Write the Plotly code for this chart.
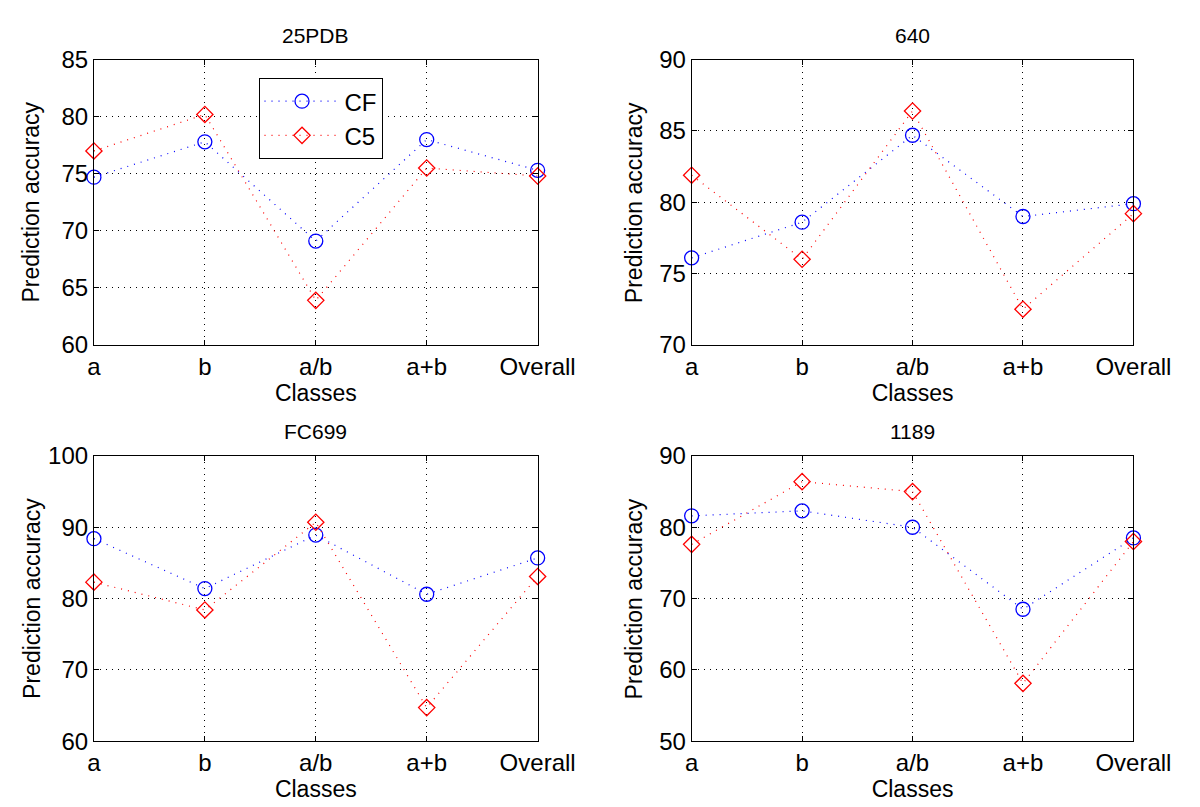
import plotly.graph_objects as go
from plotly.subplots import make_subplots

classes = ['a', 'b', 'a/b', 'a+b', 'Overall']
titles = ['25PDB', '640', 'FC699', '1189']

# valeurs
cf_25pdb = [74.7, 77.8, 69.1, 78.0, 75.3]
c5_25pdb = [77.0, 80.2, 63.9, 75.5, 74.8]
cf_640 = [76.1, 78.6, 84.7, 79.0, 79.9]
c5_640 = [81.9, 76.0, 86.4, 72.5, 79.2]
cf_fc699 = [88.4, 81.4, 88.9, 80.6, 85.7]
c5_fc699 = [82.3, 78.4, 90.7, 64.7, 83.1]
cf_1189 = [81.6, 82.3, 80.0, 68.5, 78.5]
c5_1189 = [77.6, 86.4, 85.0, 58.1, 78.0]

y_ranges = [[60, 85], [70, 90], [60, 100], [50, 90]]
y_dtick = [5, 5, 10, 10]

cf_all = [cf_25pdb, cf_640, cf_fc699, cf_1189]
c5_all = [c5_25pdb, c5_640, c5_fc699, c5_1189]

fig = make_subplots(rows=2, cols=2)

x_pos = [1, 2, 3, 4, 5]
font = 'Liberation Sans, Arial, sans-serif'

for i in range(4):
    r = i // 2 + 1
    c = i % 2 + 1
    fig.add_trace(go.Scatter(x=x_pos, y=cf_all[i], name='CF', mode='lines+markers',
                             line=dict(color='#0000ff', width=1.2, dash='1px,6px'),
                             marker=dict(symbol='circle-open', size=14, color='#0000ff',
                                         line=dict(width=1.3)),
                             cliponaxis=False, showlegend=(i == 0)), row=r, col=c)
    fig.add_trace(go.Scatter(x=x_pos, y=c5_all[i], name='C5', mode='lines+markers',
                             line=dict(color='#ff0000', width=1.2, dash='1px,6px'),
                             marker=dict(symbol='diamond-open', size=12.5, color='#ff0000',
                                         line=dict(width=1.3)),
                             cliponaxis=False, showlegend=(i == 0)), row=r, col=c)

# positions des axes (pixels -> papier)
W, H = 1200, 807
x_dom = [[82 / W, 543 / W], [703 / W, 1162 / W]]
y_dom = [[1 - 334 / H, 1 - 39 / H], [1 - 744 / H, 1 - 449 / H]]

for i in range(4):
    r = i // 2 + 1
    c = i % 2 + 1
    fig.update_xaxes(row=r, col=c, domain=x_dom[c - 1], range=[1, 5],
                     tickvals=x_pos, ticktext=classes,
                     title=dict(text='Classes', standoff=2, font=dict(size=23)),
                     tickfont=dict(size=24), ticks='inside', ticklen=5,
                     showline=True, linecolor='black', linewidth=1, mirror='allticks',
                     showgrid=True, gridcolor='black', gridwidth=1, griddash='1px,5px',
                     zeroline=False, tickcolor='black')
    fig.update_yaxes(row=r, col=c, domain=y_dom[r - 1], range=y_ranges[i],
                     dtick=y_dtick[i],
                     tickfont=dict(size=24), ticks='inside', ticklen=5,
                     showline=True, linecolor='black', linewidth=1, mirror='allticks',
                     showgrid=True, gridcolor='black', gridwidth=1, griddash='1px,5px',
                     zeroline=False, tickcolor='black')

# titres des sous-graphes et des axes y
title_y = [1 - 14 / H, 1 - 14 / H, 1 - 424 / H, 1 - 424 / H]
ylab_x = [17 / W, 643 / W]
for i in range(4):
    c = i % 2
    r = i // 2
    fig.add_annotation(text=titles[i], xref='paper', yref='paper',
                       x=(x_dom[c][0] + x_dom[c][1]) / 2, y=title_y[i],
                       showarrow=False, font=dict(size=21, color='black'),
                       xanchor='center', yanchor='middle')
    fig.add_annotation(text='Prediction accuracy', xref='paper', yref='paper',
                       x=ylab_x[c], y=(y_dom[r][0] + y_dom[r][1]) / 2, textangle=-90,
                       showarrow=False, font=dict(size=23, color='black'),
                       xanchor='center', yanchor='middle')

fig.update_layout(width=W, height=H, margin=dict(l=0, r=0, t=0, b=0),
                  plot_bgcolor='white', paper_bgcolor='white',
                  font=dict(family=font, color='black'),
                  legend=dict(x=253 / W, y=1 - 58 / H, xanchor='left', yanchor='top',
                              bordercolor='black', borderwidth=1, bgcolor='white',
                              font=dict(size=24), itemwidth=75, tracegroupgap=0))

fig.write_html("out.html")
